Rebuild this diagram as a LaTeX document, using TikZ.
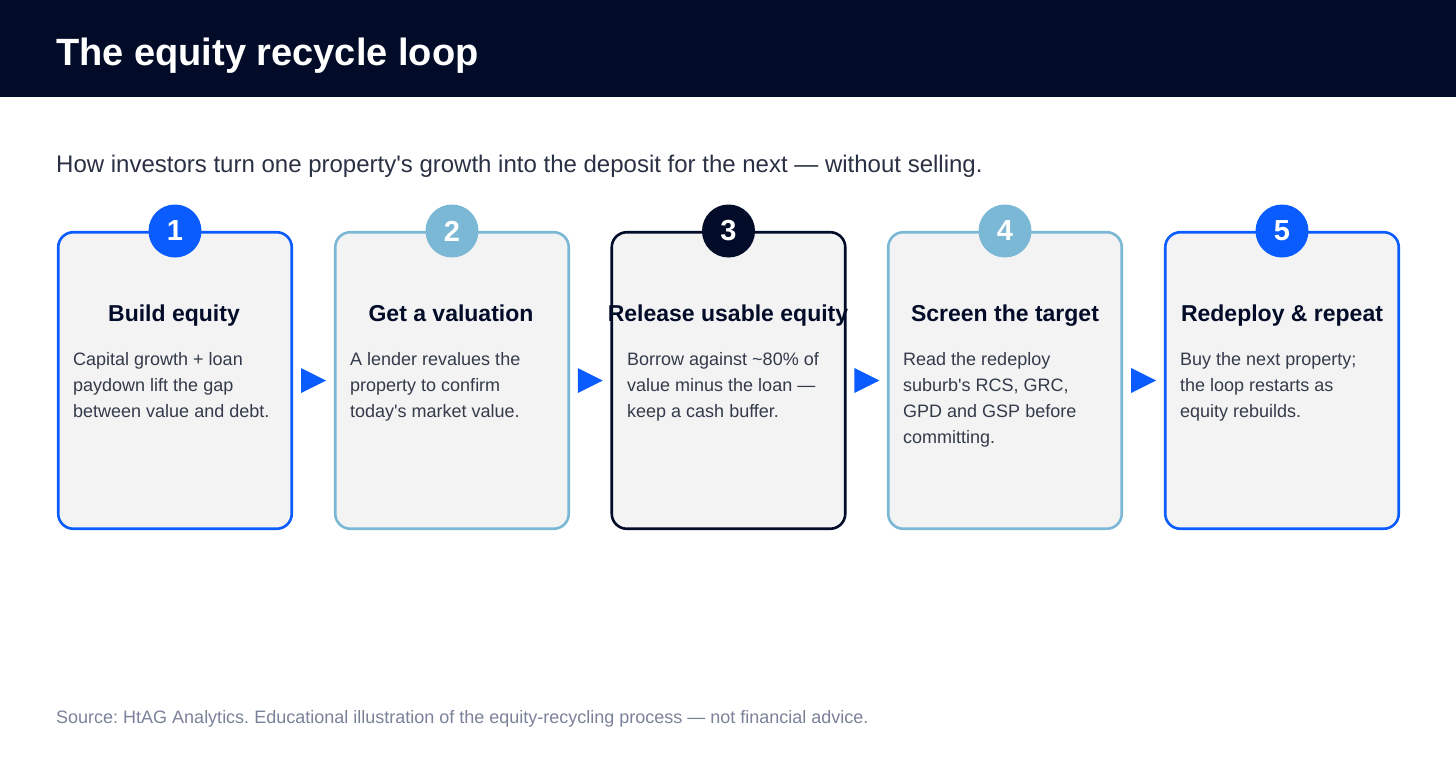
\documentclass[tikz,border=0pt]{standalone}
\usepackage{fontspec}
\setmainfont{Liberation Sans}
\usetikzlibrary{calc}
\frenchspacing
\definecolor{navy}{HTML}{020B28}
\definecolor{bblue}{HTML}{0A5CFF}
\definecolor{lblue}{HTML}{7AB8D6}
\definecolor{cardfill}{HTML}{F3F3F3}
\definecolor{subc}{HTML}{2A3144}
\definecolor{bodyc}{HTML}{333A4A}
\definecolor{footc}{HTML}{7A8299}
\newcommand{\apo}{\textquotesingle}
\begin{document}
\begin{tikzpicture}[x=1pt,y=-1pt,
  card/.style={draw=#1, line width=2.6pt, fill=cardfill, rounded corners=15pt, minimum width=233.5pt, minimum height=296.5pt, inner sep=0pt},
  badge/.style={circle, fill=#1, minimum size=53pt, inner sep=0pt, text=white, font=\fontsize{29}{30}\selectfont\bfseries},
  ctitle/.style={anchor=base, text=navy, inner sep=0pt, font=\fontsize{23}{26}\selectfont\bfseries},
  cbody/.style={anchor=north west, align=left, inner sep=0pt, text=bodyc, font=\fontsize{18}{26}\selectfont},
  tri/.style={fill=bblue}]
\useasboundingbox (0,0) rectangle (1456,760);
\fill[navy] (0,0) rectangle (1456,97);
\node[anchor=base west, inner sep=0pt, text=white, font=\fontsize{38}{44}\selectfont\bfseries] (title) at (56,66) {The equity recycle loop};
\node[anchor=base west, inner sep=0pt, text=subc, font=\fontsize{24}{28}\selectfont] (sub) at (56,172) {How investors turn one property\apo s growth into the deposit for the next — without selling.};
% cards
\foreach \i/\x/\c in {1/175/bblue,2/452/lblue,3/728.5/navy,4/1005/lblue,5/1282/bblue}{
  \node[card=\c] (c\i) at (\x,380.5) {};
  \node[badge=\c] (b\i) at (\x,231) {\i};
}
\node[ctitle] (t1) at (174,321) {Build equity};
\node[ctitle] (t2) at (451,321) {Get a valuation};
\node[ctitle] (t3) at (728,321) {Release usable equity};
\node[ctitle] (t4) at (1005,321) {Screen the target};
\node[ctitle] (t5) at (1282,321) {Redeploy \& repeat};
\node[cbody] (d1) at (73,352) {Capital growth + loan\\paydown lift the gap\\between value and debt.};
\node[cbody] (d2) at (350,352) {A lender revalues the\\property to confirm\\today\apo s market value.};
\node[cbody] (d3) at (627,352) {Borrow against \char`\~80\% of\\value minus the loan —\\keep a cash buffer.};
\node[cbody] (d4) at (903,352) {Read the redeploy\\suburb\apo s RCS, GRC,\\GPD and GSP before\\committing.};
\node[cbody] (d5) at (1180,352) {Buy the next property;\\the loop restarts as\\equity rebuilds.};
% arrows
\foreach \a/\b in {1/2,2/3,3/4,4/5}{
  \coordinate (m\a) at ($(c\a.east)!0.5!(c\b.west)$);
  \fill[tri] ([xshift=-12.5pt,yshift=-12.5pt]m\a) -- ([xshift=12.5pt]m\a) -- ([xshift=-12.5pt,yshift=12.5pt]m\a) -- cycle;
}
\node[anchor=base west, inner sep=0pt, text=footc, font=\fontsize{18}{20}\selectfont] (src) at (56,723) {Source: HtAG Analytics. Educational illustration of the equity-recycling process — not financial advice.};
\end{tikzpicture}
\end{document}
